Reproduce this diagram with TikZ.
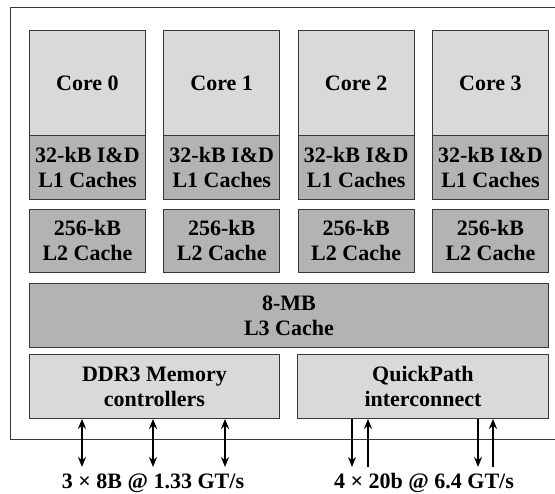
\documentclass[tikz,border=0pt]{standalone}
\usepackage{fontspec}
\setmainfont{Liberation Serif}
\usetikzlibrary{arrows.meta}
\definecolor{lightfill}{HTML}{D9D9D9}
\definecolor{darkfill}{HTML}{B3B3B3}
\definecolor{edge}{HTML}{383838}
\begin{document}
\begin{tikzpicture}[x=1pt,y=-1pt,
  blk/.style={draw=edge, line width=0.9pt, anchor=north west, inner sep=0pt, align=center,
    font=\fontsize{22}{25}\selectfont\bfseries},
  corebox/.style={blk, fill=lightfill, minimum width=116pt, minimum height=105pt},
  lonebox/.style={blk, fill=darkfill, minimum width=116pt, minimum height=64pt},
  ltwobox/.style={blk, fill=darkfill, minimum width=116pt, minimum height=63pt},
  bigbox/.style={blk, minimum height=64pt},
  lbl/.style={font=\fontsize{22}{25}\selectfont\bfseries},
  dbl/.style={line width=2pt, {Stealth[length=10pt,width=8pt]}-{Stealth[length=10pt,width=8pt]}},
  onearr/.style={line width=2pt, -{Stealth[length=10pt,width=8pt]}}
]
\useasboundingbox (0,0) rectangle (555,494);
\draw[draw=edge, line width=1pt] (10,8) rectangle (570,440);
\foreach \i/\x in {0/29,1/163.3,2/297.7,3/432}{
  \node[corebox] (c\i) at (\x,30) {Core \i};
  \node[lonebox] (lone\i) at (\x,135) {32-kB I\&D\\L1 Caches};
  \node[ltwobox] (ltwo\i) at (\x,209) {256-kB\\L2 Cache};
}
\node[bigbox, fill=darkfill, minimum width=519pt] (lthree) at (29,283) {8-MB\\L3 Cache};
\node[bigbox, fill=lightfill, minimum width=250pt] (ddr) at (29,354) {DDR3 Memory\\controllers};
\node[bigbox, fill=lightfill, minimum width=251pt] (qp) at (297,354) {QuickPath\\interconnect};
\coordinate (m1) at (82,467);
\coordinate (m2) at (153,467);
\coordinate (m3) at (225,467);
\foreach \m in {m1,m2,m3}{\draw[dbl] (\m |- ddr.south) -- (\m);}
\coordinate (q1) at (352,467);
\coordinate (q2) at (368,467);
\coordinate (q3) at (478,467);
\coordinate (q4) at (493,467);
\draw[onearr] (q1 |- qp.south) -- (q1);
\draw[onearr] (q2) -- (q2 |- qp.south);
\draw[onearr] (q3 |- qp.south) -- (q3);
\draw[onearr] (q4) -- (q4 |- qp.south);
\node[lbl] (lab1) at (153,483) {3 × 8B @ 1.33 GT/s};
\node[lbl] (lab2) at (424,483) {4 × 20b @ 6.4 GT/s};
\end{tikzpicture}
\end{document}
